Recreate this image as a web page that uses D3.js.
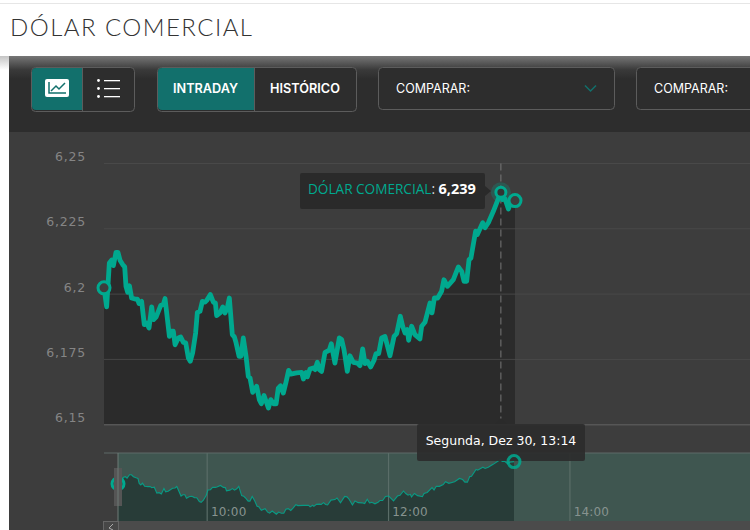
<!DOCTYPE html>
<html><head><meta charset="utf-8">
<script src="https://cdnjs.cloudflare.com/ajax/libs/d3/7.8.5/d3.min.js"></script>
<style>html,body{margin:0;padding:0;background:#fff;overflow:hidden}svg{display:block}</style>
</head><body><div id="c"></div>
<script>
const chartTitle = "DÓLAR COMERCIAL";
const seriesName = "DÓLAR COMERCIAL";
const startMinute = 541; // 09:01
const minutesFromStart = [0,1.7,3.4,4.9,6,7.65,8.9,10.2,11.9,13.2,14,15.1,16.2,17.6,19.8,21.3,22.3,24,25.7,27.2,28.7,30.4,31.5,33.2,36.1,37.8,38.9,41.7,42.9,44.2,45.3,47.4,48.9,50.6,52.1,53.8,55,56.5,58.4,59.5,61.2,62.7,64.4,65.5,67.8,69.7,71,71.8,74,75.7,77.1,78.6,79.9,81.8,83.1,84.2,86.1,87.3,88.8,90.5,92,93.1,94.8,97.3,99,100.3,102,104.8,106.3,108,109.7,111.1,112.6,114.3,115.8,117.7,119,122.8,126,127.1,128.8,129.6,131.3,133.4,134.5,136,137.3,138.7,140.9,143.6,144.9,147.2,150,151.5,153,155.1,156.8,158.9,161.5,163.2,164.9,166.4,167.9,170,172.1,173.4,175.1,177,179.1,182.3,184.9,186.6,188.9,190.4,191.9,193.4,194.2,196.1,198.2,201.4,202.5,204.6,207.8,209.1,210.6,212.7,215.2,216.7,218.9,222.7,225.9,228,229.5,231.2,232.7,233.9,236.9,238,241.4,242.9,245,248.2,253,254.2,255.6,257.8,259.2,262];
const prices = [6.2024,6.1951,6.2119,6.213,6.2109,6.216,6.216,6.213,6.2113,6.2104,6.203,6.2007,6.2032,6.1985,6.1981,6.1981,6.1964,6.1972,6.1883,6.1889,6.187,6.1951,6.1902,6.1912,6.1956,6.196,6.1983,6.1838,6.1858,6.1858,6.1806,6.1832,6.1836,6.1815,6.1813,6.1755,6.1743,6.1775,6.1851,6.193,6.1934,6.1972,6.1969,6.1976,6.1998,6.1969,6.1966,6.1918,6.1928,6.1951,6.1928,6.1947,6.1985,6.1845,6.1836,6.1813,6.1762,6.1762,6.1832,6.1764,6.1685,6.1679,6.1624,6.1647,6.1596,6.158,6.1612,6.1564,6.1596,6.158,6.158,6.164,6.1649,6.1621,6.1657,6.1708,6.1694,6.1698,6.17,6.1675,6.17,6.1683,6.1713,6.1717,6.1711,6.1739,6.1711,6.1704,6.1777,6.1785,6.181,6.1736,6.1832,6.1826,6.1787,6.1704,6.1764,6.1739,6.1736,6.1726,6.179,6.1734,6.1743,6.1721,6.1746,6.1772,6.1772,6.1832,6.1838,6.1764,6.1838,6.1849,6.1915,6.1877,6.1851,6.1864,6.1823,6.1877,6.1845,6.1828,6.1877,6.1892,6.1966,6.1928,6.1985,6.1985,6.2011,6.2055,6.203,6.2055,6.2104,6.2087,6.2049,6.2049,6.2132,6.2138,6.2241,6.2228,6.2273,6.2254,6.2273,6.2317,6.239,6.2362,6.2365,6.2326,6.2349,6.2358];
const yTicks = [6.15,6.175,6.2,6.225,6.25];
const navTicks = [600,720,840];
const hoverMinute = 794; // 13:14
const hoverPrice = 6.239;
const hoverLabel = "Segunda, Dez 30, 13:14";
const hoverValueLabel = "6,239";
const buttons = ["INTRADAY","HISTÓRICO"];
const compareLabel = "COMPARAR:";

const TEAL="#00a98f", W=750, H=530;
const data = minutesFromStart.map((m,i)=>({t:startMinute+m,v:prices[i]}));
const svg = d3.select("#c").append("svg").attr("width",W).attr("height",H);
const defs = svg.append("defs");
const g1 = defs.append("linearGradient").attr("id","tb").attr("x1",0).attr("x2",0).attr("y1",0).attr("y2",1);
g1.append("stop").attr("offset",0).attr("stop-color","#777");
g1.append("stop").attr("offset",.18).attr("stop-color","#3a3a3a");
g1.append("stop").attr("offset",.3).attr("stop-color","#2d2d2d");
const g2 = defs.append("linearGradient").attr("id","ls").attr("x1",0).attr("x2",0).attr("y1",0).attr("y2",1);
g2.append("stop").attr("offset",0).attr("stop-color","#c4c4c4");
g2.append("stop").attr("offset",1).attr("stop-color","#fff");

// page
svg.append("rect").attr("width",W).attr("height",H).attr("fill","#fff");
svg.append("rect").attr("y",3).attr("width",W).attr("height",1).attr("fill","#e6e6e6");
svg.append("text").attr("x",10).attr("y",36).text(chartTitle)
  .attr("font-family","Lato").attr("font-weight",300).attr("font-size",24).attr("letter-spacing",1.45).attr("fill","#333");
svg.append("rect").attr("y",56).attr("width",9).attr("height",14).attr("fill","url(#ls)");
svg.append("rect").attr("x",9).attr("y",132).attr("width",741).attr("height",398).attr("fill","#3d3d3d");
svg.append("rect").attr("x",9).attr("y",56).attr("width",741).attr("height",76).attr("fill","url(#tb)");

// toolbar
const tb = svg.append("g").attr("font-family","Inter, 'Open Sans'").attr("font-size",12.5);
function box(x,y,w,h){return tb.append("rect").attr("x",x+.5).attr("y",y+.5).attr("width",w).attr("height",h).attr("rx",4).attr("fill","#2d2d2d").attr("stroke","#5c5c5c");}
box(31,67,103,44);
tb.append("path").attr("d","M82,68H36a4,4 0 0 0 -4,4V106a4,4 0 0 0 4,4H82Z").attr("fill","#12706c");
tb.append("rect").attr("x",82).attr("y",68).attr("width",1).attr("height",43).attr("fill","#5c5c5c");
tb.append("rect").attr("x",45).attr("y",79).attr("width",24).attr("height",18).attr("rx",2).attr("fill","#fff");
tb.append("path").attr("d","M49,82V93H66M51,91L56,86L59,89L65,83").attr("fill","none").attr("stroke","#12706c").attr("stroke-width",1.5);
[80,88,96].forEach(y=>{
  tb.append("circle").attr("cx",98.5).attr("cy",y+.5).attr("r",1.4).attr("fill","#fff");
  tb.append("rect").attr("x",104).attr("y",y).attr("width",16).attr("height",1.3).attr("fill","#fff");
});
box(157,67,199,44);
tb.append("path").attr("d","M254,68H162a4,4 0 0 0 -4,4V106a4,4 0 0 0 4,4H254Z").attr("fill","#12706c");
tb.append("rect").attr("x",254).attr("y",68).attr("width",1).attr("height",43).attr("fill","#5c5c5c");
[[205.5,0],[305,1]].forEach(([x,i])=>tb.append("text").attr("x",x).attr("y",93).attr("text-anchor","middle")
  .attr("fill","#fff").attr("font-weight",600).attr("font-size",12.7).text(buttons[i]));
box(378,67,236,42); box(636,67,200,42);
[396,654].forEach(x=>tb.append("text").attr("x",x).attr("y",93).attr("fill","#fff").attr("font-size",12.5).text(compareLabel));
tb.append("path").attr("d","M585,85.5L590.5,91L596,85.5").attr("fill","none").attr("stroke","#12706c").attr("stroke-width",1.5);

// main chart
const x = d3.scaleLinear().domain([541,803]).range([104,515]);
const y = d3.scaleLinear().domain([6.15,6.25]).range([424.7,163.5]);
const axisG = svg.append("g").attr("transform","translate(104,0)")
  .call(d3.axisLeft(y).tickValues(yTicks).tickSize(0).tickPadding(18).tickFormat(d=>String(+d.toFixed(3)).replace(".",",")));
axisG.select(".domain").remove();
axisG.selectAll("text").attr("transform","translate(0,-7)").attr("fill","#858585").attr("font-family","'DejaVu Sans'").attr("font-size",12.5).attr("letter-spacing",.8);
svg.append("path").datum(data).attr("fill","#2b2b2b")
  .attr("d",d3.area().x(d=>x(d.t)).y0(y(6.15)).y1(d=>y(d.v)));
svg.append("g").selectAll("line").data(yTicks).join("line")
  .attr("x1",104).attr("x2",W).attr("y1",d=>y(d)).attr("y2",d=>y(d))
  .attr("stroke",d=>d===6.15?"#565656":"#4c4c4c").attr("stroke-width",d=>d===6.15?1.5:1).attr("opacity",d=>d===6.15?1:.85);
svg.append("line").attr("x1",x(hoverMinute)).attr("x2",x(hoverMinute)).attr("y1",y(6.25)).attr("y2",y(6.15))
  .attr("stroke","#777").attr("stroke-dasharray","7 4");
svg.append("path").datum(data).attr("fill","none").attr("stroke",TEAL).attr("stroke-width",4.8).attr("stroke-linejoin","round")
  .attr("d",d3.line().x(d=>x(d.t)).y(d=>y(d.v)));
const first=data[0], last=data[data.length-1];
[[first,6],[last,6]].forEach(([d,r])=>svg.append("circle").attr("cx",x(d.t)).attr("cy",y(d.v)).attr("r",r)
  .attr("fill","#3d3d3d").attr("stroke",TEAL).attr("stroke-width",3));
svg.append("circle").attr("cx",x(hoverMinute)).attr("cy",y(hoverPrice)).attr("r",10).attr("fill",TEAL).attr("opacity",.25);
svg.append("circle").attr("cx",x(hoverMinute)).attr("cy",y(hoverPrice)).attr("r",5).attr("fill","#333").attr("stroke",TEAL).attr("stroke-width",3);

// value tooltip
const tip = svg.append("g");
tip.append("path").attr("d","M302,173H483a2,2 0 0 1 2,2V186L491,191L485,196V207a2,2 0 0 1 -2,2H302a2,2 0 0 1 -2,-2V175a2,2 0 0 1 2,-2Z").attr("fill","#2a2a2a");
const tt = tip.append("text").attr("x",308).attr("y",194).attr("font-family","'Open Sans'").attr("font-size",13.6);
tt.append("tspan").attr("fill",TEAL).text(seriesName);
tt.append("tspan").attr("fill","#ddd").text(": ");
tt.append("tspan").attr("fill","#fff").attr("font-weight",700).attr("font-size",14.5).text(hoverValueLabel);

// navigator
const nx = d3.scaleLinear().domain([541,803]).range([118,514]);
const ny = d3.scaleLinear().domain([6.156,6.239]).range([514.5,459.5]);
const nt=453, nb=521;
svg.append("rect").attr("x",118).attr("y",nt).attr("width",W-118).attr("height",nb-nt).attr("fill","#3f5650");
svg.append("line").attr("x1",104).attr("x2",W).attr("y1",nt).attr("y2",nt).attr("stroke","#5f6b68");
svg.append("path").datum(data).attr("fill","#283c38")
  .attr("d",d3.area().x(d=>nx(d.t)).y0(nb).y1(d=>ny(d.v)));
svg.append("g").selectAll("line").data(navTicks).join("line")
  .attr("x1",d=>nx(d)).attr("x2",d=>nx(d)).attr("y1",nt).attr("y2",nb).attr("stroke","#5a6d68").attr("stroke-width",1.2);
svg.append("path").datum(data).attr("fill","none").attr("stroke",TEAL).attr("stroke-width",1.1).attr("opacity",.85)
  .attr("d",d3.line().x(d=>nx(d.t)).y(d=>ny(d.v)));
const navAxis = svg.append("g").attr("transform",`translate(0,${nb})`)
  .call(d3.axisBottom(nx).tickValues(navTicks).tickSize(0).tickFormat(d=>String(d/60).padStart(2,"0")+":00"));
navAxis.select(".domain").remove();
navAxis.selectAll("text").attr("transform","translate(21,-17)").attr("fill","#87938f").attr("font-family","'DejaVu Sans'").attr("font-size",12).attr("letter-spacing",.2);
svg.append("rect").attr("x",104).attr("y",nb).attr("width",W-104).attr("height",H-nb).attr("fill","#4b4b4b");
svg.append("rect").attr("x",103.5).attr("y",nb+.5).attr("width",15).attr("height",10).attr("fill","#474747").attr("stroke","#666");
svg.append("path").attr("d","M113,524L109,528L113,530").attr("fill","none").attr("stroke","#aaa");
svg.append("circle").attr("cx",nx(first.t)).attr("cy",ny(first.v)).attr("r",6).attr("fill","none").attr("stroke",TEAL).attr("stroke-width",3);
svg.append("rect").attr("x",114).attr("y",468).attr("width",8).attr("height",38).attr("fill","#555");
svg.append("line").attr("x1",118).attr("x2",118).attr("y1",nt).attr("y2",nb).attr("stroke","#6f7a77");

// time tooltip
svg.append("path").attr("d","M495,424L501,418L507,424Z").attr("fill","#2a2a2a");
svg.append("rect").attr("x",417).attr("y",424).attr("width",168).attr("height",37).attr("rx",2).attr("fill","#2b2b2b").attr("opacity",.9);
svg.append("text").attr("x",501).attr("y",445).attr("text-anchor","middle").attr("fill","#fff")
  .attr("font-family","'DejaVu Sans'").attr("font-size",12.5).text(hoverLabel);
svg.append("circle").attr("cx",nx(last.t)).attr("cy",ny(last.v)).attr("r",6).attr("fill","none").attr("stroke",TEAL).attr("stroke-width",3).attr("opacity",.85);
</script></body></html>
